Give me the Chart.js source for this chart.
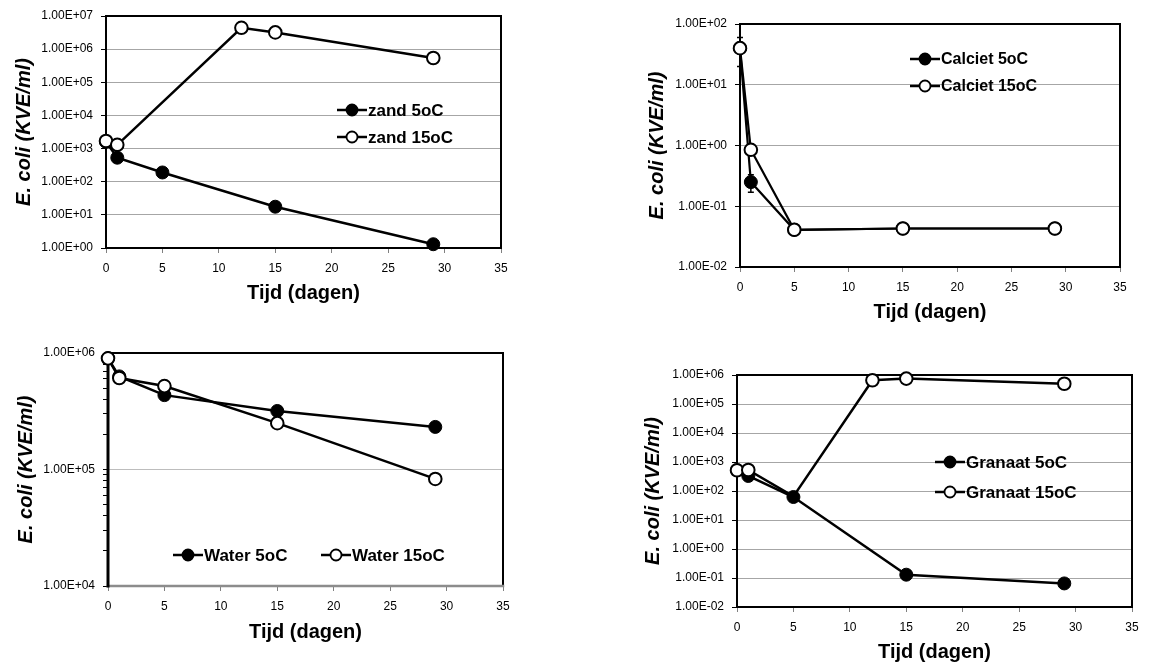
<!DOCTYPE html>
<html><head><meta charset="utf-8">
<script src="https://cdn.jsdelivr.net/npm/chart.js@4"></script>
<style>
html,body{margin:0;padding:0;background:#fff;}
body{width:1152px;height:664px;position:relative;overflow:hidden;}
canvas{position:absolute;}
</style></head><body>
<canvas id="c1" width="576" height="330" style="left:0px;top:0px"></canvas>
<canvas id="c2" width="576" height="330" style="left:576px;top:0px"></canvas>
<canvas id="c3" width="576" height="334" style="left:0px;top:330px"></canvas>
<canvas id="c4" width="576" height="334" style="left:576px;top:330px"></canvas>
<script>
// ---------------- DATA ----------------
const xTickValues = [0, 5, 10, 15, 20, 25, 30, 35];
const xTickLabels = ["0", "5", "10", "15", "20", "25", "30", "35"];

// Zand
const zandLabels = ["zand 5oC", "zand 15oC"];
const zandDays5 = [0, 1, 5, 15, 29];
const zand5 = [1600, 530, 190, 17.6, 1.3];
const zandDays15 = [0, 1, 12, 15, 29];
const zand15 = [1700, 1300, 4.4e6, 3.2e6, 5.4e5];
const zandYTicks = [1, 10, 100, 1e3, 1e4, 1e5, 1e6, 1e7];
const zandYLabels = ["1.00E+00", "1.00E+01", "1.00E+02", "1.00E+03", "1.00E+04", "1.00E+05", "1.00E+06", "1.00E+07"];

// Calciet
const calcietLabels = ["Calciet 5oC", "Calciet 15oC"];
const calcietDays5 = [0, 1, 5, 15, 29];
const calciet5 = [40, 0.25, 0.041, 0.043, 0.043];
const calciet5Low = [20, 0.17, null, null, null];
const calciet5High = [60, 0.33, null, null, null];
const calcietDays15 = [0, 1, 5, 15, 29];
const calciet15 = [40, 0.85, 0.041, 0.043, 0.043];
const calcietYTicks = [0.01, 0.1, 1, 10, 100];
const calcietYLabels = ["1.00E-02", "1.00E-01", "1.00E+00", "1.00E+01", "1.00E+02"];

// Water
const waterLabels = ["Water 5oC", "Water 15oC"];
const waterDays5 = [0, 1, 5, 15, 29];
const water5 = [9.0e5, 6.3e5, 4.35e5, 3.18e5, 2.32e5];
const waterDays15 = [0, 1, 5, 15, 29];
const water15 = [9.0e5, 6.1e5, 5.2e5, 2.5e5, 8.3e4];
const waterYTicks = [1e4, 1e5, 1e6];
const waterYMinorTicks = [2e4, 3e4, 4e4, 5e4, 6e4, 7e4, 8e4, 9e4, 2e5, 3e5, 4e5, 5e5, 6e5, 7e5, 8e5, 9e5];
const waterYLabels = ["1.00E+04", "1.00E+05", "1.00E+06"];

// Granaat
const granaatLabels = ["Granaat 5oC", "Granaat 15oC"];
const granaatDays5 = [0, 1, 5, 15, 29];
const granaat5 = [520, 330, 62, 0.13, 0.065];
const granaatDays15 = [0, 1, 5, 12, 15, 29];
const granaat15 = [520, 530, 65, 6.6e5, 7.5e5, 5.0e5];
const granaatYTicks = [0.01, 0.1, 1, 10, 100, 1e3, 1e4, 1e5, 1e6];
const granaatYLabels = ["1.00E-02", "1.00E-01", "1.00E+00", "1.00E+01", "1.00E+02", "1.00E+03", "1.00E+04", "1.00E+05", "1.00E+06"];

// ---------------- PLUGINS ----------------
const FONT = "'Liberation Sans', Arial, sans-serif";

const plotBox = {
  id: 'plotBox',
  beforeDatasetsDraw(chart, args, opts) {
    const {ctx, chartArea: a} = chart;
    const sides = opts.sides || {};
    const def = {color: '#000', width: 2};
    const seg = (s, x1, y1, x2, y2) => {
      const st = Object.assign({}, def, sides[s] || {});
      ctx.save();
      ctx.strokeStyle = st.color; ctx.lineWidth = st.width; ctx.lineCap = 'square';
      ctx.beginPath(); ctx.moveTo(x1, y1); ctx.lineTo(x2, y2); ctx.stroke();
      ctx.restore();
    };
    seg('top', a.left, a.top, a.right, a.top);
    seg('right', a.right, a.top, a.right, a.bottom);
    seg('bottom', a.left, a.bottom, a.right, a.bottom);
    seg('left', a.left, a.top, a.left, a.bottom);
  }
};

const errorBars = {
  id: 'errorBars',
  beforeDatasetsDraw(chart) {
    const ctx = chart.ctx;
    const yScale = chart.scales.y;
    chart.data.datasets.forEach((ds, di) => {
      if (!ds.errLow) return;
      const meta = chart.getDatasetMeta(di);
      ds.errLow.forEach((lo, i) => {
        const hi = ds.errHigh[i];
        if (lo == null || hi == null) return;
        const x = meta.data[i].x;
        const y1 = yScale.getPixelForValue(lo), y2 = yScale.getPixelForValue(hi);
        ctx.save();
        ctx.strokeStyle = '#000'; ctx.lineWidth = 1.5;
        ctx.beginPath();
        ctx.moveTo(x, y1); ctx.lineTo(x, y2);
        ctx.moveTo(x - 3, y1); ctx.lineTo(x + 3, y1);
        ctx.moveTo(x - 3, y2); ctx.lineTo(x + 3, y2);
        ctx.stroke();
        ctx.restore();
      });
    });
  }
};

const excelLegend = {
  id: 'excelLegend',
  afterDatasetsDraw(chart, args, opts) {
    const ctx = chart.ctx;
    (opts.items || []).forEach((it, i) => {
      const ds = chart.data.datasets[i];
      ctx.save();
      ctx.strokeStyle = '#000'; ctx.lineWidth = 2.5;
      ctx.beginPath(); ctx.moveTo(it.x, it.y); ctx.lineTo(it.x + 30, it.y); ctx.stroke();
      ctx.beginPath(); ctx.arc(it.x + 15, it.y, 5.5, 0, Math.PI * 2);
      ctx.fillStyle = ds.legendFill; ctx.fill();
      ctx.lineWidth = 1.8; ctx.stroke();
      ctx.fillStyle = '#000';
      ctx.font = 'bold ' + (opts.size || 17) + 'px ' + FONT;
      ctx.textBaseline = 'middle'; ctx.textAlign = 'left';
      ctx.fillText(ds.label, it.x + 31, it.y + 1);
      ctx.restore();
    });
  }
};

function pts(xs, ys) { return xs.map((x, i) => ({x: x, y: ys[i]})); }

function makeChart(id, cfg) {
  const majors = cfg.yTicks;
  const allTicks = majors.concat(cfg.yMinor || []).sort((a, b) => a - b);
  const isMajor = v => majors.some(m => Math.abs(m - v) / m < 1e-6);
  const lw = cfg.lineWidth || 2.5;
  new Chart(document.getElementById(id), {
    type: 'line',
    data: {
      datasets: [
        {
          label: cfg.labels[0], data: pts(cfg.days5, cfg.v5), order: 1,
          borderColor: '#000', backgroundColor: '#000', borderWidth: lw,
          pointBackgroundColor: '#000', pointBorderColor: '#000', pointRadius: 6.5, pointBorderWidth: 1,
          pointHoverRadius: 6.5, clip: false, tension: 0, legendFill: '#000',
          errLow: cfg.err5Low, errHigh: cfg.err5High
        },
        {
          label: cfg.labels[1], data: pts(cfg.days15, cfg.v15), order: 0,
          borderColor: '#000', backgroundColor: '#fff', borderWidth: lw,
          pointBackgroundColor: '#fff', pointBorderColor: '#000', pointRadius: cfg.radius15 || 6.3, pointBorderWidth: 2,
          pointHoverRadius: 6.3, clip: false, tension: 0, legendFill: '#fff'
        }
      ]
    },
    options: {
      responsive: false, animation: false, devicePixelRatio: 1,
      events: [],
      layout: {padding: {left: 0, top: cfg.padTop, right: cfg.padRight, bottom: 0}},
      plugins: {
        legend: {display: false}, tooltip: {enabled: false},
        excelLegend: {items: cfg.legend, size: cfg.legendSize || 17},
        plotBox: {sides: cfg.sides || {}}
      },
      scales: {
        x: {
          type: 'linear', min: 0, max: 35,
          afterBuildTicks: s => { s.ticks = xTickValues.map(v => ({value: v})); },
          afterFit: s => { s.height = cfg.xH; },
          ticks: {callback: (v, i) => xTickLabels[i], font: {family: FONT, size: 12}, color: '#000',
                  padding: 8, maxRotation: 0, autoSkip: false},
          grid: {drawOnChartArea: false, tickLength: 5, tickColor: '#808080'},
          border: {display: false},
          title: {display: true, text: 'Tijd (dagen)', color: '#000',
                  font: {family: FONT, size: 20, weight: 'bold'}, padding: {top: 0, bottom: cfg.xTitlePB}}
        },
        y: {
          type: 'logarithmic', min: majors[0], max: majors[majors.length - 1],
          afterBuildTicks: s => { s.ticks = allTicks.map(v => ({value: v})); },
          afterFit: s => { s.width = cfg.yW; },
          ticks: {
            callback: v => { const k = majors.findIndex(m => Math.abs(m - v) / m < 1e-6); return k >= 0 ? cfg.yLabels[k] : ''; },
            font: {family: FONT, size: 12}, color: '#000', padding: 8, autoSkip: false
          },
          grid: {
            color: c => (c.tick && isMajor(c.tick.value)) ? (cfg.gridColor || '#a6a6a6') : 'rgba(0,0,0,0)',
            lineWidth: 1, tickColor: '#000', tickLength: 5
          },
          border: {display: false},
          title: {display: true, text: 'E. coli (KVE/ml)', color: '#000',
                  font: {family: FONT, size: 20, weight: 'bold', style: 'italic'}, padding: {top: cfg.yTitlePT, bottom: 0}}
        }
      }
    },
    plugins: [plotBox, errorBars, excelLegend]
  });
}

makeChart('c1', {
  labels: zandLabels, days5: zandDays5, v5: zand5, days15: zandDays15, v15: zand15,
  yTicks: zandYTicks, yLabels: zandYLabels,
  yW: 106, padTop: 16, padRight: 75, xH: 82, yTitlePT: 12, xTitlePB: 25,
  legend: [{x: 337, y: 110}, {x: 337, y: 137}]
});

makeChart('c2', {
  labels: calcietLabels, days5: calcietDays5, v5: calciet5, days15: calcietDays15, v15: calciet15,
  err5Low: calciet5Low, err5High: calciet5High,
  yTicks: calcietYTicks, yLabels: calcietYLabels,
  yW: 164, padTop: 24, padRight: 32, xH: 63, yTitlePT: 69, xTitlePB: 6,
  legend: [{x: 334, y: 59}, {x: 334, y: 86}], legendSize: 16, lineWidth: 2.2
});

makeChart('c3', {
  labels: waterLabels, days5: waterDays5, v5: water5, days15: waterDays15, v15: water15,
  yTicks: waterYTicks, yMinor: waterYMinorTicks, yLabels: waterYLabels,
  yW: 108, padTop: 23, padRight: 73, xH: 78, yTitlePT: 14, xTitlePB: 20,
  legend: [{x: 173, y: 225}, {x: 321, y: 225}], gridColor: '#bdbdbd',
  sides: {left: {width: 3}, bottom: {color: '#8c8c8c', width: 2.5}}
});

makeChart('c4', {
  labels: granaatLabels, days5: granaatDays5, v5: granaat5, days15: granaatDays15, v15: granaat15,
  yTicks: granaatYTicks, yLabels: granaatYLabels, radius15: [6.3, 6.3, 0, 6.3, 6.3, 6.3],
  yW: 161, padTop: 45, padRight: 20, xH: 57, yTitlePT: 65, xTitlePB: 0,
  legend: [{x: 935 - 576, y: 132}, {x: 935 - 576, y: 162}]
});
</script>
</body></html>
